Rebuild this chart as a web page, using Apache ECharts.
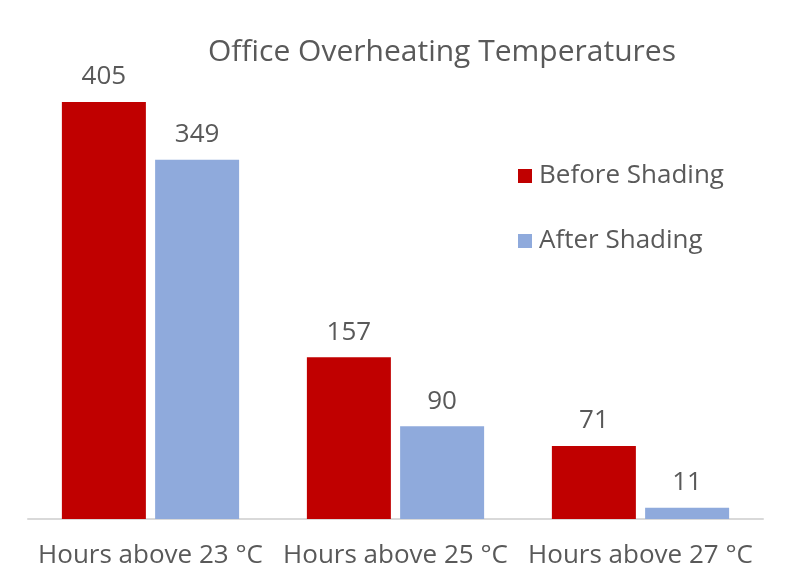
<!DOCTYPE html>
<html><head><meta charset="utf-8">
<script src="https://cdn.jsdelivr.net/npm/echarts@6/dist/echarts.min.js"></script>
<style>html,body{margin:0;padding:0;background:#fff}#c{width:796px;height:587px}</style>
</head><body><div id="c"></div>
<script>
const categories = ['Hours above 23 °C', 'Hours above 25 °C', 'Hours above 27 °C'];
const beforeShading = [405, 157, 71];
const afterShading = [349, 90, 11];
const seriesNames = ['Before Shading', 'After Shading'];

const FONT = '"Open Sans", sans-serif';
const TXT = '#595959';
const chart = echarts.init(document.getElementById('c'));
chart.setOption({
  animation: false,
  title: {
    text: 'Office Overheating Temperatures',
    left: 437, top: 32, textAlign: 'center',
    textStyle: {fontFamily: FONT, fontSize: 30, fontWeight: 'normal', color: TXT}
  },
  legend: {
    orient: 'vertical', left: 513, top: 158,
    itemWidth: 14, itemHeight: 14, itemGap: 39,
    icon: 'rect',
    textStyle: {fontFamily: FONT, fontSize: 26, color: TXT, padding: [0,0,0,2]},
    data: seriesNames
  },
  grid: {left: 28, right: 33, top: 102, bottom: 68, containLabel: false},
  xAxis: {
    type: 'category', data: categories,
    axisLine: {lineStyle: {color: '#D9D9D9', width: 2}},
    axisTick: {show: false},
    axisLabel: {fontFamily: FONT, fontSize: 26, color: TXT, margin: 24, interval: 0}
  },
  yAxis: {type: 'value', min: 0, max: 405, show: false},
  series: [
    {name: seriesNames[0], type: 'bar', data: beforeShading, barWidth: 84, barGap: '11%',
     itemStyle: {color: '#C00000'},
     label: {show: true, position: 'top', distance: 12, fontFamily: FONT, fontSize: 26, color: TXT}},
    {name: seriesNames[1], type: 'bar', data: afterShading, barWidth: 84, barGap: '11%',
     itemStyle: {color: '#8FAADC'},
     label: {show: true, position: 'top', distance: 12, fontFamily: FONT, fontSize: 26, color: TXT}}
  ]
});
</script></body></html>
